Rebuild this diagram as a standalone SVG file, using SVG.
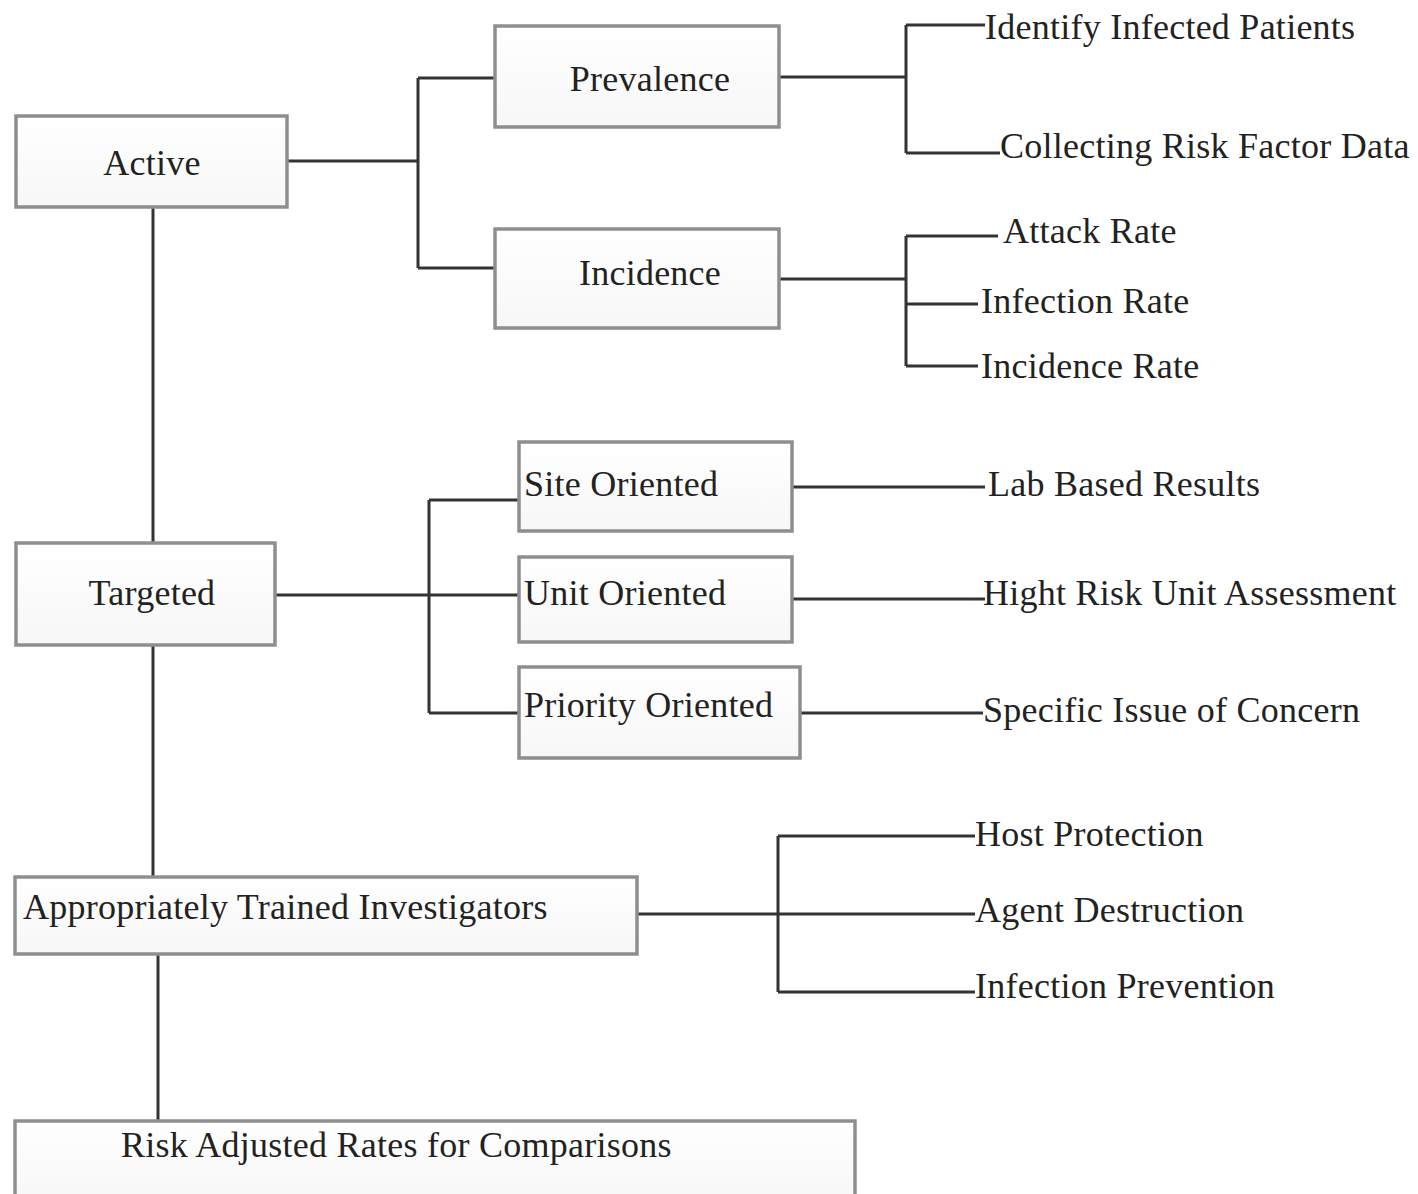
<svg xmlns="http://www.w3.org/2000/svg" width="1418" height="1194" viewBox="0 0 1418 1194">
<style>
.box{fill:url(#g);stroke:#8e8e8e;stroke-width:3.5}
.t{font-family:"Liberation Serif","Times New Roman",serif;font-size:36px;fill:#222;letter-spacing:0.25px}
.c{text-anchor:middle}
.ln{fill:none;stroke:#333;stroke-width:3}
</style>
<defs>
<linearGradient id="g" x1="0" y1="0" x2="0" y2="1">
<stop offset="0" stop-color="#ffffff"/>
<stop offset="1" stop-color="#f7f7f7"/>
</linearGradient>
</defs>
<rect width="1418" height="1194" fill="#fff"/>
<g id="connectors">
<path class="ln" d="M287 161H418M418 78V268M418 78H494M418 268H494"/>
<path class="ln" d="M779 77H906M906 25V153M906 25H985M906 153H1000"/>
<path class="ln" d="M779 279H906M906 236V366M906 236H998M906 304H978M906 366H978"/>
<path class="ln" d="M153 207V542"/>
<path class="ln" d="M275 595H518M429 500V713M429 500H518M429 713H518"/>
<path class="ln" d="M792 487H985M792 599H985M800 713H983"/>
<path class="ln" d="M153 645V876"/>
<path class="ln" d="M637 914H975M778 836V992M778 836H975M778 992H975"/>
<path class="ln" d="M158 954V1120"/>
</g>
<g id="active"><rect class="box" x="16" y="116" width="271" height="91"/><text class="t c" x="152" y="175">Active</text></g>
<g id="prevalence"><rect class="box" x="495" y="26" width="284" height="101"/><text class="t c" x="650" y="91">Prevalence</text></g>
<g id="incidence"><rect class="box" x="495" y="229" width="284" height="99"/><text class="t c" x="650" y="285">Incidence</text></g>
<g id="site"><rect class="box" x="519" y="442" width="273" height="89"/><text class="t" x="524" y="496">Site Oriented</text></g>
<g id="unit"><rect class="box" x="519" y="557" width="273" height="85"/><text class="t" x="524" y="605">Unit Oriented</text></g>
<g id="priority"><rect class="box" x="519" y="667" width="281" height="91"/><text class="t" x="524" y="717">Priority Oriented</text></g>
<g id="targeted"><rect class="box" x="16" y="543" width="259" height="102"/><text class="t c" x="152" y="605">Targeted</text></g>
<g id="investigators"><rect class="box" x="15" y="877" width="622" height="77"/><text class="t" x="23" y="919">Appropriately Trained Investigators</text></g>
<g id="risk"><rect class="box" x="15" y="1121" width="840" height="80"/><text class="t" x="121" y="1157">Risk Adjusted Rates for Comparisons</text></g>
<g id="leaf-identify"><text class="t" x="985" y="39">Identify Infected Patients</text></g>
<g id="leaf-collecting"><text class="t" x="1000" y="158">Collecting Risk Factor Data</text></g>
<g id="leaf-attack"><text class="t" x="1003" y="243">Attack Rate</text></g>
<g id="leaf-infection"><text class="t" x="981" y="313">Infection Rate</text></g>
<g id="leaf-incidence"><text class="t" x="981" y="378">Incidence Rate</text></g>
<g id="leaf-lab"><text class="t" x="988" y="496">Lab Based Results</text></g>
<g id="leaf-hight"><text class="t" x="983" y="605">Hight Risk Unit Assessment</text></g>
<g id="leaf-specific"><text class="t" x="983" y="722">Specific Issue of Concern</text></g>
<g id="leaf-host"><text class="t" x="975" y="846">Host Protection</text></g>
<g id="leaf-agent"><text class="t" x="975" y="922">Agent Destruction</text></g>
<g id="leaf-prevention"><text class="t" x="975" y="998">Infection Prevention</text></g>
</svg>
